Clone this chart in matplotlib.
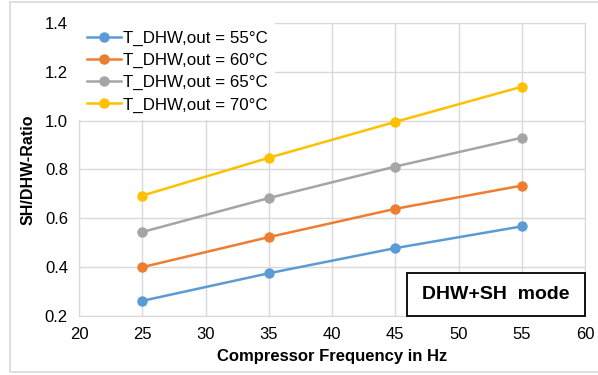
import matplotlib
matplotlib.use("Agg")
import matplotlib.pyplot as plt
from matplotlib.patches import Rectangle

plt.rcParams["font.family"] = ["Liberation Sans", "DejaVu Sans"]

freq = [25, 35, 45, 55]
ratio_55 = [0.262, 0.375, 0.478, 0.567]
ratio_60 = [0.400, 0.523, 0.639, 0.734]
ratio_65 = [0.544, 0.683, 0.812, 0.930]
ratio_70 = [0.693, 0.848, 0.995, 1.139]
labels = ["T_DHW,out = 55°C", "T_DHW,out = 60°C",
          "T_DHW,out = 65°C", "T_DHW,out = 70°C"]
colors = ["#5B9BD5", "#ED7D31", "#A5A5A5", "#FFC000"]
xticks = [20, 25, 30, 35, 40, 45, 50, 55, 60]
yticks = [0.2, 0.4, 0.6, 0.8, 1.0, 1.2, 1.4]

fig = plt.figure(figsize=(5.98, 3.75), dpi=100)
# outer chart frame
fig.patches.append(Rectangle((10 / 598, 3 / 375), 600 / 598, 370 / 375,
                             transform=fig.transFigure, fill=False,
                             edgecolor="#D9D9D9", lw=1.2))
ax = fig.add_axes([79 / 598, 1 - 316 / 375, 506 / 598, 293 / 375])

for ys, lab, c in zip([ratio_55, ratio_60, ratio_65, ratio_70], labels, colors):
    ax.plot(freq, ys, color=c, lw=1.8, marker="o", ms=6.5, label=lab, zorder=3)

ax.set_xlim(20, 60)
ax.set_ylim(0.2, 1.4)
ax.set_xticks(xticks)
ax.set_yticks(yticks)
ax.set_yticklabels([f"{v:.1f}" for v in yticks])
ax.grid(color="#D9D9D9", lw=1)
ax.set_axisbelow(True)
for s in ax.spines.values():
    s.set_color("#D9D9D9")
ax.tick_params(length=0, labelsize=12, pad=8)

ax.set_xlabel("Compressor Frequency in Hz", fontsize=12, fontweight="bold", labelpad=5)
ax.set_ylabel("SH/DHW-Ratio", fontsize=11.5, fontweight="bold", labelpad=7)

leg = ax.legend(loc="upper left", fontsize=12.2, frameon=True, fancybox=False,
                borderaxespad=0, handlelength=2.0, handletextpad=0.15,
                labelspacing=0.42, borderpad=0.45)
leg.get_frame().set_edgecolor("none")
leg.get_frame().set_facecolor("white")
leg.get_frame().set_alpha(1)

# annotation box in the lower right corner of the plot area
ax.add_patch(Rectangle((0.648, 0.0), 0.352, 0.147, transform=ax.transAxes,
                       facecolor="white", edgecolor="black", lw=1.3,
                       zorder=5, clip_on=False))
ax.text(0.824, 0.0735, "DHW+SH  mode", transform=ax.transAxes, ha="center",
        va="center", fontsize=14, fontweight="bold", zorder=6)

fig.savefig("out.png", dpi=100)
